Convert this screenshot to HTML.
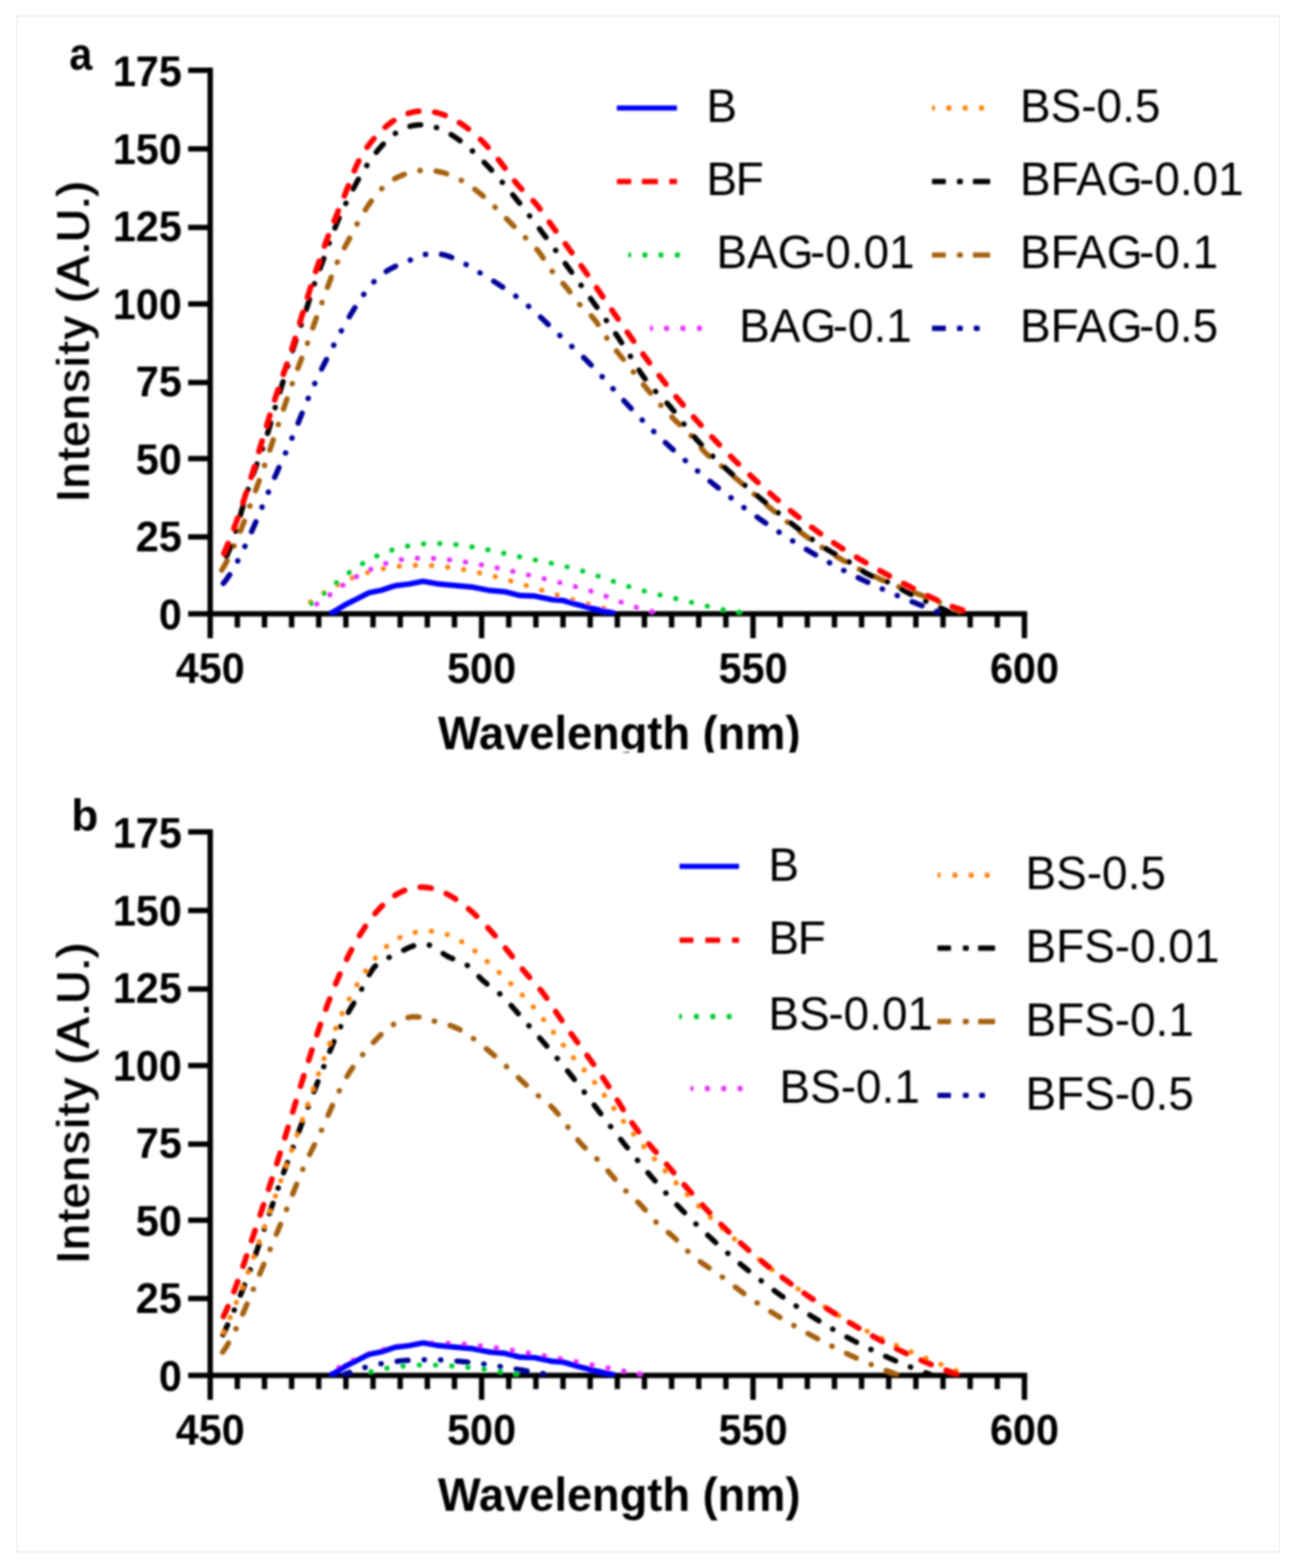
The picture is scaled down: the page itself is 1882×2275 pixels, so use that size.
<!DOCTYPE html>
<html lang="en">
<head>
<meta charset="utf-8">
<title>Fluorescence emission spectra</title>
<style>
html,body{margin:0;padding:0;background:#fff;}
body{width:1882px;height:2275px;overflow:hidden;position:relative;}
svg{display:block;position:absolute;left:0;top:0;}
text{font-family:"Liberation Sans",sans-serif;fill:#000;}
.tk{font-size:62.5px;font-weight:700;}
.ax{font-size:68px;font-weight:700;}
.yt{font-size:66px !important;font-weight:400 !important;}
.pb{font-size:64px !important;}
.pl{font-size:66px;font-weight:700;}
.lg{font-size:68px;font-weight:400;}
</style>
</head>
<body>
<svg width="1882" height="2275" viewBox="0 0 1882 2275">
<defs>
<filter id="soft" x="-2%" y="-2%" width="104%" height="104%"><feGaussianBlur stdDeviation="1.5"/></filter>
<filter id="fb" x="-5%" y="-2%" width="110%" height="104%"><feMorphology operator="dilate" radius="0 1"/></filter>
<clipPath id="clipA"><rect x="0" y="0" width="1882" height="1092"/></clipPath>
<clipPath id="plotA"><rect x="300" y="60" width="1300" height="831.5"/></clipPath>
<clipPath id="plotB"><rect x="300" y="1165" width="1300" height="831.5"/></clipPath>
</defs>
<rect x="0" y="0" width="1882" height="2275" fill="#ffffff"/>
<rect x="24.5" y="23.5" width="1832" height="2228" fill="none" stroke="#f5f5f5" stroke-width="3"/>
<g filter="url(#soft)">

<g id="panel-a" clip-path="url(#clipA)">
<g fill="#000"><rect x="301.10" y="98.10" width="7.8" height="827.90"/>
<rect x="273.00" y="886.70" width="1217.40" height="7.8"/>
<rect x="273" y="775.10" width="32.00" height="7.8"/>
<rect x="273" y="661.50" width="32.00" height="7.8"/>
<rect x="273" y="551.10" width="32.00" height="7.8"/>
<rect x="273" y="437.10" width="32.00" height="7.8"/>
<rect x="273" y="326.10" width="32.00" height="7.8"/>
<rect x="273" y="212.10" width="32.00" height="7.8"/>
<rect x="273" y="98.10" width="32.00" height="7.8"/>
<rect x="340.48" y="890.60" width="7.8" height="19.80"/>
<rect x="379.87" y="890.60" width="7.8" height="19.80"/>
<rect x="419.25" y="890.60" width="7.8" height="19.80"/>
<rect x="458.63" y="890.60" width="7.8" height="19.80"/>
<rect x="498.02" y="890.60" width="7.8" height="19.80"/>
<rect x="537.40" y="890.60" width="7.8" height="19.80"/>
<rect x="576.78" y="890.60" width="7.8" height="19.80"/>
<rect x="616.17" y="890.60" width="7.8" height="19.80"/>
<rect x="655.55" y="890.60" width="7.8" height="19.80"/>
<rect x="694.93" y="890.60" width="7.8" height="35.40"/>
<rect x="734.32" y="890.60" width="7.8" height="19.80"/>
<rect x="773.70" y="890.60" width="7.8" height="19.80"/>
<rect x="813.08" y="890.60" width="7.8" height="19.80"/>
<rect x="852.47" y="890.60" width="7.8" height="19.80"/>
<rect x="891.85" y="890.60" width="7.8" height="19.80"/>
<rect x="931.23" y="890.60" width="7.8" height="19.80"/>
<rect x="970.62" y="890.60" width="7.8" height="19.80"/>
<rect x="1010.00" y="890.60" width="7.8" height="19.80"/>
<rect x="1049.38" y="890.60" width="7.8" height="19.80"/>
<rect x="1088.77" y="890.60" width="7.8" height="35.40"/>
<rect x="1128.15" y="890.60" width="7.8" height="19.80"/>
<rect x="1167.53" y="890.60" width="7.8" height="19.80"/>
<rect x="1206.92" y="890.60" width="7.8" height="19.80"/>
<rect x="1246.30" y="890.60" width="7.8" height="19.80"/>
<rect x="1285.68" y="890.60" width="7.8" height="19.80"/>
<rect x="1325.07" y="890.60" width="7.8" height="19.80"/>
<rect x="1364.45" y="890.60" width="7.8" height="19.80"/>
<rect x="1403.83" y="890.60" width="7.8" height="19.80"/>
<rect x="1443.22" y="890.60" width="7.8" height="19.80"/>
<rect x="1482.60" y="890.60" width="7.8" height="35.40"/></g>
<text class="tk" transform="translate(263.8,912.9) scale(0.96,1)" text-anchor="end">0</text>
<text class="tk" transform="translate(263.8,800.3) scale(0.96,1)" text-anchor="end">25</text>
<text class="tk" transform="translate(263.8,687.8) scale(0.96,1)" text-anchor="end">50</text>
<text class="tk" transform="translate(263.8,575.2) scale(0.96,1)" text-anchor="end">75</text>
<text class="tk" transform="translate(263.8,462.6) scale(0.96,1)" text-anchor="end">100</text>
<text class="tk" transform="translate(263.8,350.0) scale(0.96,1)" text-anchor="end">125</text>
<text class="tk" transform="translate(263.8,237.5) scale(0.96,1)" text-anchor="end">150</text>
<text class="tk" transform="translate(263.8,124.9) scale(0.96,1)" text-anchor="end">175</text>
<text class="tk" transform="translate(305.0,991.3) scale(0.96,1)" text-anchor="middle">450</text>
<text class="tk" transform="translate(698.8,991.3) scale(0.96,1)" text-anchor="middle">500</text>
<text class="tk" transform="translate(1092.7,991.3) scale(0.96,1)" text-anchor="middle">550</text>
<text class="tk" transform="translate(1486.5,991.3) scale(0.96,1)" text-anchor="middle">600</text>
<text class="pl" transform="translate(100.5,100.6) scale(0.91,1)">a</text>
<text class="ax" transform="translate(898.5,1087.4) scale(0.965,1)" text-anchor="middle">Wavelength (nm)</text>
<g filter="url(#fb)"><text class="ax yt" transform="translate(129.4,495.7) rotate(-90)" text-anchor="middle" dx="0 1.8 3.6 1.8 1.8 3.6 3.6 3.6 3.6 1.8 0 1.8 1.8 0 0 0">Intensity (A.U.)</text></g>
<g clip-path="url(#plotA)">
<path d="M321.0,849.9 L325.0,845.3 L329.0,840.1 L333.0,834.3 L337.0,827.9 L341.0,821.0 L345.0,813.7 L349.0,805.9 L353.0,797.8 L357.0,789.3 L361.0,780.5 L365.0,771.6 L369.0,762.4 L373.0,753.0 L377.0,743.6 L381.0,734.0 L385.0,724.5 L389.0,715.0 L393.0,705.5 L397.0,696.2 L401.0,687.0 L405.0,677.9 L409.0,669.0 L413.0,660.1 L417.0,651.1 L421.0,641.9 L425.0,632.4 L429.0,622.7 L433.0,612.8 L437.0,602.8 L441.0,592.9 L445.0,583.2 L449.0,573.8 L453.0,564.7 L457.0,555.8 L461.0,547.3 L465.0,539.0 L469.0,530.8 L473.0,522.9 L477.0,515.0 L481.0,507.2 L485.0,499.5 L489.0,491.8 L493.0,484.2 L497.0,476.8 L501.0,469.7 L505.0,462.7 L509.0,456.0 L513.0,449.5 L517.0,443.1 L521.0,436.9 L525.0,431.0 L529.0,425.4 L533.0,420.0 L537.0,415.1 L541.0,410.5 L545.0,406.3 L549.0,402.5 L553.0,399.2 L557.0,396.1 L561.0,393.4 L565.0,391.0 L569.0,388.8 L573.0,386.7 L577.0,384.9 L581.0,383.1 L585.0,381.5 L589.0,379.9 L593.0,378.3 L597.0,376.6 L601.0,375.0 L605.0,373.3 L609.0,371.8 L613.0,370.4 L617.0,369.2 L621.0,368.4 L625.0,368.0 L629.0,367.8 L633.0,367.9 L637.0,368.4 L641.0,369.1 L645.0,370.0 L649.0,371.2 L653.0,372.5 L657.0,374.1 L661.0,375.8 L665.0,377.7 L669.0,379.7 L673.0,381.9 L677.0,384.1 L681.0,386.4 L685.0,388.8 L689.0,391.3 L693.0,393.7 L697.0,396.2 L701.0,398.6 L705.0,401.1 L709.0,403.6 L713.0,406.0 L717.0,408.5 L721.0,411.1 L725.0,413.6 L729.0,416.2 L733.0,418.9 L737.0,421.6 L741.0,424.3 L745.0,427.2 L749.0,430.1 L753.0,433.1 L757.0,436.2 L761.0,439.4 L765.0,442.7 L769.0,446.1 L773.0,449.6 L777.0,453.3 L781.0,457.0 L785.0,460.7 L789.0,464.5 L793.0,468.4 L797.0,472.2 L801.0,476.0 L805.0,479.9 L809.0,483.7 L813.0,487.4 L817.0,491.1 L821.0,494.7 L825.0,498.4 L829.0,502.0 L833.0,505.7 L837.0,509.4 L841.0,513.1 L845.0,516.9 L849.0,520.8 L853.0,524.7 L857.0,528.8 L861.0,532.9 L865.0,537.1 L869.0,541.4 L873.0,545.7 L877.0,550.1 L881.0,554.5 L885.0,558.9 L889.0,563.4 L893.0,567.8 L897.0,572.2 L901.0,576.7 L905.0,581.1 L909.0,585.4 L913.0,589.7 L917.0,594.0 L921.0,598.2 L925.0,602.4 L929.0,606.5 L933.0,610.6 L937.0,614.6 L941.0,618.6 L945.0,622.5 L949.0,626.4 L953.0,630.3 L957.0,634.1 L961.0,637.9 L965.0,641.7 L969.0,645.4 L973.0,649.1 L977.0,652.7 L981.0,656.3 L985.0,659.9 L989.0,663.5 L993.0,667.0 L997.0,670.4 L1001.0,673.9 L1005.0,677.3 L1009.0,680.7 L1013.0,684.1 L1017.0,687.4 L1021.0,690.7 L1025.0,694.0 L1029.0,697.3 L1033.0,700.5 L1037.0,703.7 L1041.0,706.9 L1045.0,710.0 L1049.0,713.2 L1053.0,716.3 L1057.0,719.4 L1061.0,722.5 L1065.0,725.5 L1069.0,728.5 L1073.0,731.5 L1077.0,734.5 L1081.0,737.5 L1085.0,740.4 L1089.0,743.3 L1093.0,746.2 L1097.0,749.1 L1101.0,751.9 L1105.0,754.7 L1109.0,757.5 L1113.0,760.3 L1117.0,763.0 L1121.0,765.7 L1125.0,768.4 L1129.0,771.1 L1133.0,773.7 L1137.0,776.4 L1141.0,779.0 L1145.0,781.5 L1149.0,784.1 L1153.0,786.6 L1157.0,789.1 L1161.0,791.6 L1165.0,794.1 L1169.0,796.5 L1173.0,798.9 L1177.0,801.3 L1181.0,803.6 L1185.0,806.0 L1189.0,808.3 L1193.0,810.5 L1197.0,812.8 L1201.0,815.0 L1205.0,817.2 L1209.0,819.4 L1213.0,821.6 L1217.0,823.7 L1221.0,825.8 L1225.0,827.9 L1229.0,830.0 L1233.0,832.0 L1237.0,834.1 L1241.0,836.1 L1245.0,838.0 L1249.0,840.0 L1253.0,841.9 L1257.0,843.8 L1261.0,845.7 L1265.0,847.6 L1269.0,849.5 L1273.0,851.3 L1277.0,853.1 L1281.0,854.9 L1285.0,856.7 L1289.0,858.5 L1293.0,860.2 L1297.0,862.0 L1301.0,863.7 L1305.0,865.4 L1309.0,867.1 L1313.0,868.7 L1317.0,870.4 L1321.0,872.0 L1325.0,873.6 L1329.0,875.2 L1333.0,876.8 L1337.0,878.4 L1341.0,880.0 L1345.0,881.6 L1349.0,883.1 L1353.0,884.6 L1357.0,886.2 L1359.8,887.2" fill="none" stroke="#000099" stroke-width="7.8" stroke-linejoin="round" stroke-linecap="round" stroke-dasharray="15.53 23.05 0.40 23.15 0.40 23.15" stroke-dashoffset="81.0"/>
<path d="M321.0,828.5 L325.0,821.8 L329.0,814.5 L333.0,806.6 L337.0,798.1 L341.0,789.2 L345.0,779.8 L349.0,770.0 L353.0,759.8 L357.0,749.4 L361.0,738.8 L365.0,728.0 L369.0,717.1 L373.0,706.0 L377.0,694.8 L381.0,683.4 L385.0,671.9 L389.0,660.3 L393.0,648.5 L397.0,636.6 L401.0,624.7 L405.0,612.7 L409.0,600.7 L413.0,588.8 L417.0,577.0 L421.0,565.4 L425.0,554.0 L429.0,542.9 L433.0,532.1 L437.0,521.7 L441.0,511.4 L445.0,501.0 L449.0,489.9 L453.0,478.4 L457.0,466.9 L461.0,455.8 L465.0,445.0 L469.0,434.2 L473.0,423.2 L477.0,412.2 L481.0,401.4 L485.0,391.0 L489.0,381.4 L493.0,372.7 L497.0,364.8 L501.0,357.2 L505.0,349.8 L509.0,342.2 L513.0,334.5 L517.0,327.0 L521.0,319.8 L525.0,312.8 L529.0,306.2 L533.0,300.0 L537.0,294.2 L541.0,288.7 L545.0,283.6 L549.0,279.0 L553.0,274.7 L557.0,270.9 L561.0,267.5 L565.0,264.4 L569.0,261.7 L573.0,259.3 L577.0,257.2 L581.0,255.3 L585.0,253.6 L589.0,252.1 L593.0,250.8 L597.0,249.7 L601.0,248.8 L605.0,248.0 L609.0,247.5 L613.0,247.2 L617.0,247.0 L621.0,247.1 L625.0,247.3 L629.0,247.7 L633.0,248.3 L637.0,249.1 L641.0,250.0 L645.0,251.1 L649.0,252.4 L653.0,253.9 L657.0,255.5 L661.0,257.4 L665.0,259.3 L669.0,261.5 L673.0,263.8 L677.0,266.3 L681.0,268.9 L685.0,271.7 L689.0,274.7 L693.0,277.8 L697.0,281.0 L701.0,284.5 L705.0,288.0 L709.0,291.7 L713.0,295.4 L717.0,299.3 L721.0,303.2 L725.0,307.2 L729.0,311.2 L733.0,315.3 L737.0,319.4 L741.0,323.4 L745.0,327.5 L749.0,331.6 L753.0,335.6 L757.0,339.5 L761.0,343.4 L765.0,347.3 L769.0,351.1 L773.0,355.1 L777.0,359.5 L781.0,364.2 L785.0,369.6 L789.0,375.6 L793.0,381.7 L797.0,387.8 L801.0,393.4 L805.0,398.3 L809.0,402.8 L813.0,407.1 L817.0,411.4 L821.0,415.9 L825.0,421.0 L829.0,426.3 L833.0,431.7 L837.0,436.9 L841.0,441.7 L845.0,445.9 L849.0,449.7 L853.0,453.4 L857.0,457.3 L861.0,461.6 L865.0,466.7 L869.0,472.5 L873.0,478.8 L877.0,485.1 L881.0,491.2 L885.0,496.9 L889.0,502.2 L893.0,507.2 L897.0,512.1 L901.0,517.1 L905.0,522.0 L909.0,527.0 L913.0,532.1 L917.0,537.1 L921.0,542.1 L925.0,547.1 L929.0,552.1 L933.0,557.1 L937.0,562.0 L941.0,566.9 L945.0,571.7 L949.0,576.5 L953.0,581.2 L957.0,585.8 L961.0,590.3 L965.0,594.7 L969.0,599.0 L973.0,603.1 L977.0,607.2 L981.0,611.1 L985.0,614.8 L989.0,618.5 L993.0,622.2 L997.0,626.0 L1001.0,630.0 L1005.0,634.5 L1009.0,639.3 L1013.0,644.4 L1017.0,649.5 L1021.0,654.3 L1025.0,658.4 L1029.0,662.0 L1033.0,665.2 L1037.0,668.4 L1041.0,671.6 L1045.0,674.8 L1049.0,678.1 L1053.0,681.4 L1057.0,684.8 L1061.0,688.2 L1065.0,691.6 L1069.0,695.0 L1073.0,698.4 L1077.0,701.9 L1081.0,705.4 L1085.0,708.9 L1089.0,712.3 L1093.0,715.8 L1097.0,719.3 L1101.0,722.8 L1105.0,726.2 L1109.0,729.7 L1113.0,733.1 L1117.0,736.5 L1121.0,739.9 L1125.0,743.3 L1129.0,746.6 L1133.0,749.9 L1137.0,753.1 L1141.0,756.3 L1145.0,759.5 L1149.0,762.6 L1153.0,765.7 L1157.0,768.7 L1161.0,771.7 L1165.0,774.7 L1169.0,777.6 L1173.0,780.5 L1177.0,783.3 L1181.0,786.1 L1185.0,788.8 L1189.0,791.6 L1193.0,794.2 L1197.0,796.8 L1201.0,799.4 L1205.0,801.9 L1209.0,804.4 L1213.0,806.8 L1217.0,809.2 L1221.0,811.6 L1225.0,813.9 L1229.0,816.1 L1233.0,818.4 L1237.0,820.5 L1241.0,822.7 L1245.0,824.8 L1249.0,826.8 L1253.0,828.8 L1257.0,830.8 L1261.0,832.7 L1265.0,834.6 L1269.0,836.5 L1273.0,838.3 L1277.0,840.1 L1281.0,841.9 L1285.0,843.6 L1289.0,845.3 L1293.0,846.9 L1297.0,848.5 L1301.0,850.1 L1305.0,851.6 L1309.0,853.2 L1313.0,854.7 L1317.0,856.2 L1321.0,857.7 L1325.0,859.2 L1329.0,860.7 L1333.0,862.1 L1337.0,863.6 L1341.0,865.1 L1345.0,866.6 L1349.0,868.1 L1353.0,869.7 L1357.0,871.2 L1361.0,872.8 L1365.0,874.4 L1369.0,876.0 L1373.0,877.7 L1377.0,879.4 L1381.0,881.1 L1385.0,882.9 L1389.0,884.8 L1392.0,886.2" fill="none" stroke="#a5610f" stroke-width="7.8" stroke-linejoin="round" stroke-linecap="round" stroke-dasharray="15.66 23.23 0.40 23.33" stroke-dashoffset="61.0"/>
<path d="M321.0,818.0 L325.0,813.5 L329.0,806.4 L333.0,797.1 L337.0,786.1 L341.0,773.7 L345.0,760.4 L349.0,746.7 L353.0,732.8 L357.0,719.4 L361.0,706.7 L365.0,694.8 L369.0,683.6 L373.0,672.6 L377.0,661.7 L381.0,650.6 L385.0,638.9 L389.0,626.4 L393.0,613.0 L397.0,599.2 L401.0,585.6 L405.0,572.4 L409.0,559.4 L413.0,546.2 L417.0,533.0 L421.0,519.9 L425.0,507.3 L429.0,495.1 L433.0,483.2 L437.0,471.4 L441.0,459.5 L445.0,447.3 L449.0,434.5 L453.0,421.5 L457.0,409.4 L461.0,398.4 L465.0,387.9 L469.0,377.2 L473.0,365.9 L477.0,354.5 L481.0,343.6 L485.0,333.3 L489.0,323.4 L493.0,314.1 L497.0,305.3 L501.0,296.8 L505.0,288.6 L509.0,280.7 L513.0,273.0 L517.0,265.7 L521.0,258.6 L525.0,251.8 L529.0,245.3 L533.0,239.1 L537.0,233.1 L541.0,227.5 L545.0,222.2 L549.0,217.2 L553.0,212.6 L557.0,208.2 L561.0,204.2 L565.0,200.5 L569.0,197.1 L573.0,194.0 L577.0,191.3 L581.0,189.0 L585.0,186.9 L589.0,185.2 L593.0,183.8 L597.0,182.7 L601.0,181.9 L605.0,181.3 L609.0,181.1 L613.0,181.1 L617.0,181.4 L621.0,181.9 L625.0,182.7 L629.0,183.7 L633.0,184.9 L637.0,186.4 L641.0,188.1 L645.0,190.0 L649.0,192.1 L653.0,194.3 L657.0,196.8 L661.0,199.4 L665.0,202.2 L669.0,205.2 L673.0,208.3 L677.0,211.6 L681.0,215.0 L685.0,218.6 L689.0,222.2 L693.0,226.0 L697.0,229.9 L701.0,234.0 L705.0,238.1 L709.0,242.3 L713.0,246.6 L717.0,251.1 L721.0,255.5 L725.0,260.1 L729.0,264.7 L733.0,269.4 L737.0,274.1 L741.0,278.9 L745.0,283.8 L749.0,288.7 L753.0,293.6 L757.0,298.6 L761.0,303.7 L765.0,308.7 L769.0,313.9 L773.0,319.0 L777.0,324.2 L781.0,329.5 L785.0,334.8 L789.0,340.1 L793.0,345.4 L797.0,350.8 L801.0,356.1 L805.0,361.5 L809.0,367.0 L813.0,372.4 L817.0,377.9 L821.0,383.4 L825.0,388.9 L829.0,394.4 L833.0,399.9 L837.0,405.4 L841.0,411.0 L845.0,416.5 L849.0,422.1 L853.0,427.6 L857.0,433.2 L861.0,438.7 L865.0,444.2 L869.0,449.8 L873.0,455.4 L877.0,460.9 L881.0,466.6 L885.0,472.2 L889.0,478.0 L893.0,483.7 L897.0,489.6 L901.0,495.6 L905.0,501.7 L909.0,507.8 L913.0,514.1 L917.0,520.6 L921.0,527.1 L925.0,533.5 L929.0,539.7 L933.0,545.6 L937.0,551.1 L941.0,556.2 L945.0,561.0 L949.0,565.5 L953.0,569.8 L957.0,573.9 L961.0,577.9 L965.0,581.9 L969.0,586.1 L973.0,590.6 L977.0,595.4 L981.0,600.5 L985.0,605.7 L989.0,611.0 L993.0,616.2 L997.0,621.3 L1001.0,626.2 L1005.0,631.0 L1009.0,635.6 L1013.0,640.1 L1017.0,644.5 L1021.0,648.8 L1025.0,652.9 L1029.0,657.0 L1033.0,660.9 L1037.0,664.8 L1041.0,668.6 L1045.0,672.3 L1049.0,676.0 L1053.0,679.6 L1057.0,683.2 L1061.0,686.7 L1065.0,690.3 L1069.0,693.8 L1073.0,697.3 L1077.0,700.7 L1081.0,704.2 L1085.0,707.6 L1089.0,711.0 L1093.0,714.4 L1097.0,717.7 L1101.0,721.1 L1105.0,724.4 L1109.0,727.7 L1113.0,731.0 L1117.0,734.3 L1121.0,737.6 L1125.0,740.8 L1129.0,744.0 L1133.0,747.2 L1137.0,750.4 L1141.0,753.6 L1145.0,756.8 L1149.0,760.0 L1153.0,763.1 L1157.0,766.3 L1161.0,769.4 L1165.0,772.5 L1169.0,775.6 L1173.0,778.6 L1177.0,781.5 L1181.0,784.4 L1185.0,787.3 L1189.0,790.0 L1193.0,792.7 L1197.0,795.3 L1201.0,797.7 L1205.0,800.1 L1209.0,802.3 L1213.0,804.5 L1217.0,806.6 L1221.0,808.8 L1225.0,811.0 L1229.0,813.4 L1233.0,815.8 L1237.0,818.4 L1241.0,821.2 L1245.0,823.9 L1249.0,826.7 L1253.0,829.3 L1257.0,831.7 L1261.0,833.8 L1265.0,835.7 L1269.0,837.3 L1273.0,838.8 L1277.0,840.2 L1281.0,841.6 L1285.0,843.1 L1289.0,844.7 L1293.0,846.6 L1297.0,848.7 L1301.0,850.8 L1305.0,853.1 L1309.0,855.3 L1313.0,857.6 L1317.0,859.7 L1321.0,861.8 L1325.0,863.8 L1329.0,865.7 L1333.0,867.6 L1337.0,869.4 L1341.0,871.2 L1345.0,873.0 L1349.0,874.7 L1353.0,876.5 L1357.0,878.3 L1361.0,880.1 L1365.0,882.0 L1369.0,883.9 L1373.0,885.8 L1377.0,887.8 L1378.0,888.4" fill="none" stroke="#000000" stroke-width="7.8" stroke-linejoin="round" stroke-linecap="round" stroke-dasharray="15.69 23.28 0.40 23.38" stroke-dashoffset="49.5"/>
<path d="M433.3,887.3 L437.3,883.9 L441.3,880.6 L445.3,877.4 L449.3,874.3 L453.3,871.3 L457.3,868.4 L461.3,865.7 L465.3,863.0 L469.3,860.4 L473.3,857.8 L477.3,855.4 L481.3,853.1 L485.3,850.9 L489.3,848.7 L493.3,846.7 L497.3,844.7 L501.3,842.8 L505.3,841.0 L509.3,839.3 L513.3,837.6 L517.3,836.1 L521.3,834.6 L525.3,833.2 L529.3,831.9 L533.3,830.7 L537.3,829.5 L541.3,828.4 L545.3,827.4 L549.3,826.4 L553.3,825.6 L557.3,824.8 L561.3,824.0 L565.3,823.4 L569.3,822.8 L573.3,822.2 L577.3,821.7 L581.3,821.3 L585.3,821.0 L589.3,820.7 L593.3,820.5 L597.3,820.3 L601.3,820.2 L605.3,820.1 L609.3,820.1 L613.3,820.2 L617.3,820.3 L621.3,820.4 L625.3,820.6 L629.3,820.9 L633.3,821.2 L637.3,821.5 L641.3,821.9 L645.3,822.3 L649.3,822.8 L653.3,823.3 L657.3,823.9 L661.3,824.5 L665.3,825.1 L669.3,825.8 L673.3,826.5 L677.3,827.3 L681.3,828.0 L685.3,828.8 L689.3,829.7 L693.3,830.6 L697.3,831.5 L701.3,832.4 L705.3,833.3 L709.3,834.3 L713.3,835.3 L717.3,836.3 L721.3,837.4 L725.3,838.5 L729.3,839.5 L733.3,840.6 L737.3,841.8 L741.3,842.9 L745.3,844.1 L749.3,845.2 L753.3,846.4 L757.3,847.6 L761.3,848.8 L765.3,850.0 L769.3,851.2 L773.3,852.4 L777.3,853.7 L781.3,854.9 L785.3,856.1 L789.3,857.4 L793.3,858.6 L797.3,859.8 L801.3,861.1 L805.3,862.3 L809.3,863.5 L813.3,864.7 L817.3,865.9 L821.3,867.2 L825.3,868.3 L829.3,869.5 L833.3,870.7 L837.3,871.9 L841.3,873.0 L845.3,874.2 L849.3,875.3 L853.3,876.4 L857.3,877.5 L861.3,878.5 L865.3,879.6 L869.3,880.6 L873.3,881.6 L877.3,882.6 L881.3,883.5 L885.3,884.5 L889.3,885.4 L893.3,886.2 L897.0,887.0" fill="none" stroke="#ff8408" stroke-width="7.3" stroke-linejoin="round" stroke-linecap="round" stroke-dasharray="0.40 23.05" stroke-dashoffset="1.5"/>
<path d="M441.0,887.3 L445.0,885.3 L449.0,883.0 L453.0,880.7 L457.0,878.1 L461.0,875.5 L465.0,872.7 L469.0,869.9 L473.0,867.0 L477.0,864.0 L481.0,861.1 L485.0,858.1 L489.0,855.2 L493.0,852.3 L497.0,849.5 L501.0,846.8 L505.0,844.2 L509.0,841.6 L513.0,839.2 L517.0,836.8 L521.0,834.6 L525.0,832.4 L529.0,830.4 L533.0,828.4 L537.0,826.5 L541.0,824.7 L545.0,823.0 L549.0,821.4 L553.0,819.9 L557.0,818.5 L561.0,817.2 L565.0,815.9 L569.0,814.8 L573.0,813.8 L577.0,812.9 L581.0,812.1 L585.0,811.5 L589.0,810.9 L593.0,810.5 L597.0,810.2 L601.0,810.0 L605.0,809.9 L609.0,809.8 L613.0,809.8 L617.0,809.8 L621.0,809.9 L625.0,810.0 L629.0,810.2 L633.0,810.5 L637.0,810.8 L641.0,811.1 L645.0,811.5 L649.0,811.9 L653.0,812.4 L657.0,812.9 L661.0,813.4 L665.0,814.0 L669.0,814.5 L673.0,815.1 L677.0,815.8 L681.0,816.4 L685.0,817.0 L689.0,817.7 L693.0,818.4 L697.0,819.1 L701.0,819.9 L705.0,820.6 L709.0,821.4 L713.0,822.2 L717.0,823.0 L721.0,823.9 L725.0,824.7 L729.0,825.6 L733.0,826.5 L737.0,827.4 L741.0,828.3 L745.0,829.2 L749.0,830.1 L753.0,831.0 L757.0,832.0 L761.0,832.9 L765.0,833.8 L769.0,834.8 L773.0,835.7 L777.0,836.7 L781.0,837.6 L785.0,838.5 L789.0,839.5 L793.0,840.5 L797.0,841.4 L801.0,842.4 L805.0,843.4 L809.0,844.4 L813.0,845.4 L817.0,846.4 L821.0,847.4 L825.0,848.5 L829.0,849.5 L833.0,850.6 L837.0,851.7 L841.0,852.8 L845.0,853.9 L849.0,855.1 L853.0,856.3 L857.0,857.5 L861.0,858.8 L865.0,860.1 L869.0,861.4 L873.0,862.8 L877.0,864.2 L881.0,865.7 L885.0,867.2 L889.0,868.8 L893.0,870.4 L897.0,871.9 L901.0,873.5 L905.0,875.0 L909.0,876.4 L913.0,877.8 L917.0,879.1 L921.0,880.4 L925.0,881.6 L929.0,882.8 L933.0,883.9 L937.0,884.9 L941.0,885.9 L945.0,886.8 L946.2,887.1" fill="none" stroke="#e633ff" stroke-width="7.3" stroke-linejoin="round" stroke-linecap="round" stroke-dasharray="0.40 22.96" stroke-dashoffset="2.0"/>
<path d="M433.9,887.3 L437.9,885.0 L441.9,882.6 L445.9,879.9 L449.9,877.1 L453.9,874.1 L457.9,871.0 L461.9,867.8 L465.9,864.6 L469.9,861.3 L473.9,857.9 L477.9,854.5 L481.9,851.1 L485.9,847.6 L489.9,844.3 L493.9,840.9 L497.9,837.7 L501.9,834.5 L505.9,831.4 L509.9,828.4 L513.9,825.6 L517.9,822.9 L521.9,820.3 L525.9,817.8 L529.9,815.4 L533.9,813.2 L537.9,811.0 L541.9,809.0 L545.9,807.1 L549.9,805.2 L553.9,803.5 L557.9,801.9 L561.9,800.4 L565.9,799.0 L569.9,797.7 L573.9,796.5 L577.9,795.3 L581.9,794.3 L585.9,793.4 L589.9,792.5 L593.9,791.8 L597.9,791.1 L601.9,790.5 L605.9,790.0 L609.9,789.6 L613.9,789.2 L617.9,788.9 L621.9,788.7 L625.9,788.6 L629.9,788.5 L633.9,788.5 L637.9,788.6 L641.9,788.7 L645.9,788.9 L649.9,789.1 L653.9,789.4 L657.9,789.8 L661.9,790.2 L665.9,790.6 L669.9,791.1 L673.9,791.7 L677.9,792.3 L681.9,792.9 L685.9,793.5 L689.9,794.2 L693.9,795.0 L697.9,795.7 L701.9,796.5 L705.9,797.3 L709.9,798.2 L713.9,799.0 L717.9,799.9 L721.9,800.7 L725.9,801.6 L729.9,802.5 L733.9,803.4 L737.9,804.3 L741.9,805.2 L745.9,806.0 L749.9,806.9 L753.9,807.8 L757.9,808.6 L761.9,809.4 L765.9,810.3 L769.9,811.1 L773.9,811.9 L777.9,812.7 L781.9,813.5 L785.9,814.3 L789.9,815.1 L793.9,815.9 L797.9,816.8 L801.9,817.6 L805.9,818.5 L809.9,819.4 L813.9,820.3 L817.9,821.2 L821.9,822.2 L825.9,823.2 L829.9,824.2 L833.9,825.2 L837.9,826.3 L841.9,827.5 L845.9,828.6 L849.9,829.9 L853.9,831.1 L857.9,832.4 L861.9,833.8 L865.9,835.1 L869.9,836.5 L873.9,837.9 L877.9,839.3 L881.9,840.7 L885.9,842.1 L889.9,843.5 L893.9,844.9 L897.9,846.3 L901.9,847.6 L905.9,849.0 L909.9,850.2 L913.9,851.5 L917.9,852.7 L921.9,853.9 L925.9,855.1 L929.9,856.2 L933.9,857.3 L937.9,858.4 L941.9,859.4 L945.9,860.4 L949.9,861.4 L953.9,862.4 L957.9,863.3 L961.9,864.3 L965.9,865.2 L969.9,866.2 L973.9,867.1 L977.9,868.0 L981.9,868.9 L985.9,869.8 L989.9,870.7 L993.9,871.7 L997.9,872.6 L1001.9,873.5 L1005.9,874.5 L1009.9,875.4 L1013.9,876.4 L1017.9,877.4 L1021.9,878.4 L1025.9,879.3 L1029.9,880.3 L1033.9,881.2 L1037.9,882.1 L1041.9,882.9 L1045.9,883.8 L1049.9,884.6 L1053.9,885.3 L1057.9,886.1 L1061.9,886.7 L1065.9,887.3 L1069.9,887.8 L1072.9,888.2" fill="none" stroke="#00cc33" stroke-width="7.3" stroke-linejoin="round" stroke-linecap="round" stroke-dasharray="0.40 23.10" stroke-dashoffset="2.0"/>
<path d="M321.0,811.7 L325.0,802.7 L329.0,793.3 L333.0,783.4 L337.0,773.2 L341.0,762.5 L345.0,751.4 L349.0,739.9 L353.0,728.1 L357.0,715.9 L361.0,703.4 L365.0,690.7 L369.0,677.6 L373.0,664.3 L377.0,650.9 L381.0,637.5 L385.0,624.1 L389.0,610.8 L393.0,597.8 L397.0,585.1 L401.0,572.8 L405.0,560.9 L409.0,549.3 L413.0,537.7 L417.0,526.1 L421.0,514.2 L425.0,501.7 L429.0,488.7 L433.0,475.2 L437.0,461.8 L441.0,448.4 L445.0,435.3 L449.0,422.4 L453.0,409.7 L457.0,397.3 L461.0,385.2 L465.0,373.5 L469.0,362.1 L473.0,351.2 L477.0,340.6 L481.0,330.4 L485.0,320.4 L489.0,310.6 L493.0,300.8 L497.0,290.9 L501.0,280.9 L505.0,270.7 L509.0,260.3 L513.0,250.3 L517.0,241.0 L521.0,232.7 L525.0,225.5 L529.0,219.0 L533.0,213.2 L537.0,207.9 L541.0,203.0 L545.0,198.4 L549.0,194.1 L553.0,190.0 L557.0,186.3 L561.0,182.8 L565.0,179.5 L569.0,176.6 L573.0,173.9 L577.0,171.5 L581.0,169.3 L585.0,167.4 L589.0,165.7 L593.0,164.3 L597.0,163.2 L601.0,162.3 L605.0,161.6 L609.0,161.2 L613.0,161.0 L617.0,161.0 L621.0,161.3 L625.0,161.8 L629.0,162.4 L633.0,163.3 L637.0,164.4 L641.0,165.6 L645.0,167.0 L649.0,168.6 L653.0,170.4 L657.0,172.4 L661.0,174.5 L665.0,176.9 L669.0,179.4 L673.0,182.1 L677.0,185.0 L681.0,188.0 L685.0,191.3 L689.0,194.7 L693.0,198.3 L697.0,202.1 L701.0,206.1 L705.0,210.2 L709.0,214.6 L713.0,219.1 L717.0,223.8 L721.0,228.7 L725.0,233.8 L729.0,239.0 L733.0,244.4 L737.0,249.9 L741.0,255.3 L745.0,260.5 L749.0,265.5 L753.0,270.2 L757.0,274.5 L761.0,278.5 L765.0,282.5 L769.0,286.4 L773.0,290.6 L777.0,295.1 L781.0,299.9 L785.0,305.2 L789.0,310.7 L793.0,316.4 L797.0,322.1 L801.0,327.7 L805.0,333.2 L809.0,338.7 L813.0,344.0 L817.0,349.4 L821.0,354.7 L825.0,360.1 L829.0,365.6 L833.0,371.1 L837.0,376.6 L841.0,382.3 L845.0,387.9 L849.0,393.6 L853.0,399.3 L857.0,405.1 L861.0,410.8 L865.0,416.6 L869.0,422.4 L873.0,428.2 L877.0,434.0 L881.0,439.9 L885.0,445.7 L889.0,451.5 L893.0,457.3 L897.0,463.0 L901.0,468.8 L905.0,474.5 L909.0,480.2 L913.0,485.9 L917.0,491.5 L921.0,497.1 L925.0,502.7 L929.0,508.2 L933.0,513.7 L937.0,519.1 L941.0,524.5 L945.0,529.9 L949.0,535.2 L953.0,540.4 L957.0,545.6 L961.0,550.7 L965.0,555.8 L969.0,560.8 L973.0,565.8 L977.0,570.6 L981.0,575.5 L985.0,580.3 L989.0,585.0 L993.0,589.7 L997.0,594.3 L1001.0,598.9 L1005.0,603.4 L1009.0,607.9 L1013.0,612.4 L1017.0,616.8 L1021.0,621.1 L1025.0,625.5 L1029.0,629.8 L1033.0,634.0 L1037.0,638.2 L1041.0,642.4 L1045.0,646.6 L1049.0,650.7 L1053.0,654.8 L1057.0,658.8 L1061.0,662.8 L1065.0,666.8 L1069.0,670.8 L1073.0,674.7 L1077.0,678.6 L1081.0,682.4 L1085.0,686.2 L1089.0,690.0 L1093.0,693.8 L1097.0,697.5 L1101.0,701.2 L1105.0,704.8 L1109.0,708.4 L1113.0,712.0 L1117.0,715.5 L1121.0,719.0 L1125.0,722.5 L1129.0,725.9 L1133.0,729.3 L1137.0,732.7 L1141.0,736.0 L1145.0,739.3 L1149.0,742.6 L1153.0,745.8 L1157.0,749.0 L1161.0,752.1 L1165.0,755.2 L1169.0,758.3 L1173.0,761.4 L1177.0,764.4 L1181.0,767.3 L1185.0,770.3 L1189.0,773.2 L1193.0,776.0 L1197.0,778.8 L1201.0,781.6 L1205.0,784.4 L1209.0,787.1 L1213.0,789.8 L1217.0,792.4 L1221.0,795.0 L1225.0,797.5 L1229.0,800.1 L1233.0,802.6 L1237.0,805.0 L1241.0,807.5 L1245.0,809.9 L1249.0,812.2 L1253.0,814.6 L1257.0,816.9 L1261.0,819.2 L1265.0,821.5 L1269.0,823.7 L1273.0,826.0 L1277.0,828.2 L1281.0,830.4 L1285.0,832.6 L1289.0,834.7 L1293.0,836.9 L1297.0,839.0 L1301.0,841.2 L1305.0,843.3 L1309.0,845.4 L1313.0,847.5 L1317.0,849.6 L1321.0,851.7 L1325.0,853.8 L1329.0,855.8 L1333.0,857.9 L1337.0,859.9 L1341.0,861.9 L1345.0,863.9 L1349.0,865.8 L1353.0,867.8 L1357.0,869.6 L1361.0,871.5 L1365.0,873.2 L1369.0,875.0 L1373.0,876.6 L1377.0,878.2 L1381.0,879.8 L1385.0,881.3 L1389.0,882.7 L1393.0,884.0 L1397.0,885.3 L1401.0,886.4 L1405.0,887.5" fill="none" stroke="#ff0000" stroke-width="8.2" stroke-linejoin="round" stroke-linecap="round" stroke-dasharray="15.75 23.37" stroke-dashoffset="29.5"/>
<path d="M479.0,890.0 L483.0,888.3 L501.5,877.1 L518.8,868.5 L536.0,859.8 L553.3,856.4 L573.5,849.7 L593.6,847.4 L613.8,843.4 L633.9,846.9 L662.7,849.7 L685.7,851.8 L708.8,856.4 L731.8,858.4 L754.8,864.1 L775.0,864.7 L800.0,869.9 L817.3,871.3 L837.4,877.1 L857.6,882.3 L886.4,888.6 L892.0,890.0" fill="none" stroke="#0000ff" stroke-width="8.0" stroke-linejoin="round"/>
</g>
<g id="legend-a">
<rect x="895.0" y="152.9" width="87.3" height="7.6" rx="1.0" fill="#0000ff"/>
<rect x="895.2" y="259.6" width="20.7" height="7.6" rx="1.0" fill="#ff0000"/><rect x="931.4" y="259.6" width="23.3" height="7.6" rx="1.0" fill="#ff0000"/><rect x="971.2" y="259.6" width="11.2" height="7.6" rx="1.0" fill="#ff0000"/>
<rect x="911.4" y="366.2" width="4.4" height="7.6" rx="2.0" fill="#00cc33"/><rect x="932.2" y="366.2" width="7.2" height="7.6" rx="2.0" fill="#00cc33"/><rect x="955.5" y="366.2" width="7.2" height="7.6" rx="2.0" fill="#00cc33"/><rect x="979.3" y="366.2" width="7.2" height="7.6" rx="2.0" fill="#00cc33"/>
<rect x="943.1" y="472.6" width="4.4" height="7.6" rx="2.0" fill="#e633ff"/><rect x="963.6" y="472.6" width="7.2" height="7.6" rx="2.0" fill="#e633ff"/><rect x="987.4" y="472.6" width="7.2" height="7.6" rx="2.0" fill="#e633ff"/><rect x="1011.3" y="472.6" width="7.2" height="7.6" rx="2.0" fill="#e633ff"/>
<rect x="1352.3" y="152.9" width="4.4" height="7.6" rx="2.0" fill="#ff8408"/><rect x="1373.4" y="152.9" width="7.2" height="7.6" rx="2.0" fill="#ff8408"/><rect x="1397.0" y="152.9" width="7.2" height="7.6" rx="2.0" fill="#ff8408"/><rect x="1420.6" y="152.9" width="7.2" height="7.6" rx="2.0" fill="#ff8408"/>
<rect x="1352.4" y="259.6" width="20.1" height="7.6" rx="1.0" fill="#000000"/><rect x="1388.6" y="259.6" width="8.5" height="7.6" rx="2.0" fill="#000000"/><rect x="1411.8" y="259.6" width="24.9" height="7.6" rx="1.0" fill="#000000"/>
<rect x="1352.4" y="366.2" width="20.1" height="7.6" rx="1.0" fill="#a5610f"/><rect x="1388.6" y="366.2" width="8.5" height="7.6" rx="2.0" fill="#a5610f"/><rect x="1411.8" y="366.2" width="24.9" height="7.6" rx="1.0" fill="#a5610f"/>
<rect x="1352.4" y="472.6" width="20.1" height="7.6" rx="1.0" fill="#000099"/><rect x="1388.6" y="472.6" width="8.5" height="7.6" rx="2.0" fill="#000099"/><rect x="1413.0" y="472.6" width="8.5" height="7.6" rx="2.0" fill="#000099"/>
<text class="lg" transform="translate(1025.0,177.2) scale(0.98,1)">B</text>
<text class="lg" transform="translate(1025.0,283.4) scale(0.98,1)" dx="0 -2">BF</text>
<text class="lg" transform="translate(1039.5,389.3) scale(0.98,1)" dx="0 0 0 -5.1">BAG-0.01</text>
<text class="lg" transform="translate(1072.5,495.6) scale(0.98,1)" dx="0 0 0 -5.1">BAG-0.1</text>
<text class="lg" transform="translate(1480.0,177.2) scale(0.98,1)">BS-0.5</text>
<text class="lg" transform="translate(1480.0,283.4) scale(0.98,1)" dx="0 0 0 0 -5.1">BFAG-0.01</text>
<text class="lg" transform="translate(1480.0,389.3) scale(0.98,1)" dx="0 0 0 0 -5.1">BFAG-0.1</text>
<text class="lg" transform="translate(1480.0,495.6) scale(0.98,1)" dx="0 0 0 0 -5.1">BFAG-0.5</text>
</g>
</g>
<g id="panel-b">
<g fill="#000"><rect x="301.10" y="1203.10" width="7.8" height="827.90"/>
<rect x="273.00" y="1991.70" width="1217.40" height="7.8"/>
<rect x="273" y="1880.10" width="32.00" height="7.8"/>
<rect x="273" y="1766.50" width="32.00" height="7.8"/>
<rect x="273" y="1656.10" width="32.00" height="7.8"/>
<rect x="273" y="1542.10" width="32.00" height="7.8"/>
<rect x="273" y="1431.10" width="32.00" height="7.8"/>
<rect x="273" y="1317.10" width="32.00" height="7.8"/>
<rect x="273" y="1203.10" width="32.00" height="7.8"/>
<rect x="340.48" y="1995.60" width="7.8" height="19.80"/>
<rect x="379.87" y="1995.60" width="7.8" height="19.80"/>
<rect x="419.25" y="1995.60" width="7.8" height="19.80"/>
<rect x="458.63" y="1995.60" width="7.8" height="19.80"/>
<rect x="498.02" y="1995.60" width="7.8" height="19.80"/>
<rect x="537.40" y="1995.60" width="7.8" height="19.80"/>
<rect x="576.78" y="1995.60" width="7.8" height="19.80"/>
<rect x="616.17" y="1995.60" width="7.8" height="19.80"/>
<rect x="655.55" y="1995.60" width="7.8" height="19.80"/>
<rect x="694.93" y="1995.60" width="7.8" height="35.40"/>
<rect x="734.32" y="1995.60" width="7.8" height="19.80"/>
<rect x="773.70" y="1995.60" width="7.8" height="19.80"/>
<rect x="813.08" y="1995.60" width="7.8" height="19.80"/>
<rect x="852.47" y="1995.60" width="7.8" height="19.80"/>
<rect x="891.85" y="1995.60" width="7.8" height="19.80"/>
<rect x="931.23" y="1995.60" width="7.8" height="19.80"/>
<rect x="970.62" y="1995.60" width="7.8" height="19.80"/>
<rect x="1010.00" y="1995.60" width="7.8" height="19.80"/>
<rect x="1049.38" y="1995.60" width="7.8" height="19.80"/>
<rect x="1088.77" y="1995.60" width="7.8" height="35.40"/>
<rect x="1128.15" y="1995.60" width="7.8" height="19.80"/>
<rect x="1167.53" y="1995.60" width="7.8" height="19.80"/>
<rect x="1206.92" y="1995.60" width="7.8" height="19.80"/>
<rect x="1246.30" y="1995.60" width="7.8" height="19.80"/>
<rect x="1285.68" y="1995.60" width="7.8" height="19.80"/>
<rect x="1325.07" y="1995.60" width="7.8" height="19.80"/>
<rect x="1364.45" y="1995.60" width="7.8" height="19.80"/>
<rect x="1403.83" y="1995.60" width="7.8" height="19.80"/>
<rect x="1443.22" y="1995.60" width="7.8" height="19.80"/>
<rect x="1482.60" y="1995.60" width="7.8" height="35.40"/></g>
<text class="tk" transform="translate(263.8,2017.9) scale(0.96,1)" text-anchor="end">0</text>
<text class="tk" transform="translate(263.8,1905.3) scale(0.96,1)" text-anchor="end">25</text>
<text class="tk" transform="translate(263.8,1792.8) scale(0.96,1)" text-anchor="end">50</text>
<text class="tk" transform="translate(263.8,1680.2) scale(0.96,1)" text-anchor="end">75</text>
<text class="tk" transform="translate(263.8,1567.6) scale(0.96,1)" text-anchor="end">100</text>
<text class="tk" transform="translate(263.8,1455.0) scale(0.96,1)" text-anchor="end">125</text>
<text class="tk" transform="translate(263.8,1342.5) scale(0.96,1)" text-anchor="end">150</text>
<text class="tk" transform="translate(263.8,1229.9) scale(0.96,1)" text-anchor="end">175</text>
<text class="tk" transform="translate(305.0,2096.3) scale(0.96,1)" text-anchor="middle">450</text>
<text class="tk" transform="translate(698.8,2096.3) scale(0.96,1)" text-anchor="middle">500</text>
<text class="tk" transform="translate(1092.7,2096.3) scale(0.96,1)" text-anchor="middle">550</text>
<text class="tk" transform="translate(1486.5,2096.3) scale(0.96,1)" text-anchor="middle">600</text>
<text class="pl pb" transform="translate(103.6,1204.8)">b</text>
<text class="ax" transform="translate(898.5,2192.4) scale(0.965,1)" text-anchor="middle">Wavelength (nm)</text>
<g filter="url(#fb)"><text class="ax yt" transform="translate(129.4,1600.7) rotate(-90)" text-anchor="middle" dx="0 1.8 3.6 1.8 1.8 3.6 3.6 3.6 3.6 1.8 0 1.8 1.8 0 0 0">Intensity (A.U.)</text></g>
<g clip-path="url(#plotB)">
<path d="M500.0,1993.9 L504.0,1992.4 L508.0,1990.9 L512.0,1989.5 L516.0,1988.1 L520.0,1986.9 L524.0,1985.6 L528.0,1984.5 L532.0,1983.4 L536.0,1982.4 L540.0,1981.4 L544.0,1980.5 L548.0,1979.6 L552.0,1978.8 L556.0,1978.1 L560.0,1977.4 L564.0,1976.7 L568.0,1976.2 L572.0,1975.6 L576.0,1975.1 L580.0,1974.7 L584.0,1974.3 L588.0,1974.0 L592.0,1973.7 L596.0,1973.4 L600.0,1973.2 L604.0,1973.0 L608.0,1972.9 L612.0,1972.8 L616.0,1972.8 L620.0,1972.7 L624.0,1972.8 L628.0,1972.8 L632.0,1972.9 L636.0,1973.1 L640.0,1973.2 L644.0,1973.4 L648.0,1973.7 L652.0,1973.9 L656.0,1974.2 L660.0,1974.5 L664.0,1974.9 L668.0,1975.2 L672.0,1975.6 L676.0,1976.0 L680.0,1976.5 L684.0,1976.9 L688.0,1977.4 L692.0,1977.9 L696.0,1978.4 L700.0,1978.9 L704.0,1979.5 L708.0,1980.1 L712.0,1980.6 L716.0,1981.2 L720.0,1981.8 L724.0,1982.4 L728.0,1983.1 L732.0,1983.7 L736.0,1984.3 L740.0,1985.0 L744.0,1985.6 L748.0,1986.3 L752.0,1987.0 L756.0,1987.6 L760.0,1988.3 L764.0,1989.0 L768.0,1989.6 L772.0,1990.3 L776.0,1990.9 L780.0,1991.6 L784.0,1992.3 L788.0,1992.9 L792.0,1993.5 L796.0,1994.2 L800.0,1994.8" fill="none" stroke="#000099" stroke-width="7.8" stroke-linejoin="round" stroke-linecap="round" stroke-dasharray="15.75 23.37 0.41 23.47 0.41 23.47" stroke-dashoffset="8.0"/>
<path d="M322.0,1963.3 L326.0,1957.6 L330.0,1951.3 L334.0,1944.3 L338.0,1936.8 L342.0,1928.8 L346.0,1920.3 L350.0,1911.5 L354.0,1902.4 L358.0,1893.1 L362.0,1883.7 L366.0,1874.2 L370.0,1864.7 L374.0,1855.2 L378.0,1845.7 L382.0,1836.2 L386.0,1826.7 L390.0,1817.2 L394.0,1807.6 L398.0,1798.0 L402.0,1788.4 L406.0,1778.7 L410.0,1768.9 L414.0,1759.1 L418.0,1749.2 L422.0,1739.2 L426.0,1729.2 L430.0,1719.2 L434.0,1709.2 L438.0,1699.5 L442.0,1690.4 L446.0,1681.9 L450.0,1673.6 L454.0,1665.6 L458.0,1657.7 L462.0,1649.5 L466.0,1641.1 L470.0,1632.3 L474.0,1623.1 L478.0,1613.8 L482.0,1604.7 L486.0,1595.9 L490.0,1587.4 L494.0,1579.3 L498.0,1571.6 L502.0,1564.4 L506.0,1557.6 L510.0,1551.4 L514.0,1545.7 L518.0,1540.3 L522.0,1535.3 L526.0,1530.5 L530.0,1525.8 L534.0,1521.2 L538.0,1516.7 L542.0,1512.3 L546.0,1508.1 L550.0,1504.0 L554.0,1500.1 L558.0,1496.5 L562.0,1493.0 L566.0,1489.8 L570.0,1486.9 L574.0,1484.3 L578.0,1481.9 L582.0,1479.9 L586.0,1478.2 L590.0,1476.9 L594.0,1475.9 L598.0,1475.3 L602.0,1475.2 L606.0,1475.4 L610.0,1476.0 L614.0,1476.9 L618.0,1477.9 L622.0,1479.1 L626.0,1480.3 L630.0,1481.5 L634.0,1482.6 L638.0,1483.6 L642.0,1484.7 L646.0,1485.7 L650.0,1486.8 L654.0,1488.1 L658.0,1489.6 L662.0,1491.3 L666.0,1493.3 L670.0,1495.5 L674.0,1497.9 L678.0,1500.5 L682.0,1503.3 L686.0,1506.2 L690.0,1509.2 L694.0,1512.2 L698.0,1515.4 L702.0,1518.6 L706.0,1521.9 L710.0,1525.3 L714.0,1528.7 L718.0,1532.1 L722.0,1535.7 L726.0,1539.2 L730.0,1542.9 L734.0,1546.5 L738.0,1550.2 L742.0,1553.9 L746.0,1557.7 L750.0,1561.4 L754.0,1565.2 L758.0,1569.0 L762.0,1572.8 L766.0,1576.5 L770.0,1580.2 L774.0,1583.8 L778.0,1587.3 L782.0,1590.5 L786.0,1593.7 L790.0,1596.8 L794.0,1600.0 L798.0,1603.5 L802.0,1607.5 L806.0,1611.9 L810.0,1616.7 L814.0,1621.8 L818.0,1627.0 L822.0,1632.4 L826.0,1637.8 L830.0,1643.2 L834.0,1648.4 L838.0,1653.4 L842.0,1658.1 L846.0,1662.5 L850.0,1666.5 L854.0,1670.2 L858.0,1673.9 L862.0,1677.5 L866.0,1681.3 L870.0,1685.4 L874.0,1689.6 L878.0,1694.1 L882.0,1698.7 L886.0,1703.3 L890.0,1708.0 L894.0,1712.7 L898.0,1717.2 L902.0,1721.6 L906.0,1725.8 L910.0,1729.8 L914.0,1733.5 L918.0,1737.1 L922.0,1740.8 L926.0,1744.6 L930.0,1748.6 L934.0,1752.9 L938.0,1757.6 L942.0,1762.3 L946.0,1766.9 L950.0,1771.3 L954.0,1775.3 L958.0,1778.8 L962.0,1782.1 L966.0,1785.3 L970.0,1788.4 L974.0,1791.7 L978.0,1795.3 L982.0,1799.2 L986.0,1803.2 L990.0,1807.4 L994.0,1811.5 L998.0,1815.4 L1002.0,1819.1 L1006.0,1822.6 L1010.0,1825.9 L1014.0,1829.0 L1018.0,1832.0 L1022.0,1834.8 L1026.0,1837.6 L1030.0,1840.3 L1034.0,1843.0 L1038.0,1845.8 L1042.0,1848.5 L1046.0,1851.3 L1050.0,1854.2 L1054.0,1857.3 L1058.0,1860.3 L1062.0,1863.4 L1066.0,1866.6 L1070.0,1869.7 L1074.0,1872.7 L1078.0,1875.7 L1082.0,1878.6 L1086.0,1881.5 L1090.0,1884.4 L1094.0,1887.1 L1098.0,1889.9 L1102.0,1892.6 L1106.0,1895.2 L1110.0,1897.8 L1114.0,1900.4 L1118.0,1902.9 L1122.0,1905.4 L1126.0,1907.8 L1130.0,1910.3 L1134.0,1912.7 L1138.0,1915.0 L1142.0,1917.4 L1146.0,1919.7 L1150.0,1922.0 L1154.0,1924.3 L1158.0,1926.6 L1162.0,1928.9 L1166.0,1931.1 L1170.0,1933.4 L1174.0,1935.6 L1178.0,1937.8 L1182.0,1940.0 L1186.0,1942.1 L1190.0,1944.3 L1194.0,1946.4 L1198.0,1948.5 L1202.0,1950.6 L1206.0,1952.6 L1210.0,1954.7 L1214.0,1956.7 L1218.0,1958.7 L1222.0,1960.6 L1226.0,1962.6 L1230.0,1964.5 L1234.0,1966.4 L1238.0,1968.3 L1242.0,1970.1 L1246.0,1971.9 L1250.0,1973.7 L1254.0,1975.5 L1258.0,1977.2 L1262.0,1978.9 L1266.0,1980.6 L1270.0,1982.2 L1274.0,1983.9 L1278.0,1985.5 L1282.0,1987.0 L1286.0,1988.5 L1290.0,1990.0 L1294.0,1991.5 L1298.0,1992.9 L1300.0,1993.6" fill="none" stroke="#a5610f" stroke-width="7.8" stroke-linejoin="round" stroke-linecap="round" stroke-dasharray="15.69 23.28 0.40 23.38" stroke-dashoffset="61.0"/>
<path d="M322.0,1939.8 L326.0,1931.4 L330.0,1922.8 L334.0,1914.0 L338.0,1904.9 L342.0,1895.6 L346.0,1886.0 L350.0,1876.2 L354.0,1866.1 L358.0,1855.6 L362.0,1844.9 L366.0,1833.9 L370.0,1822.5 L374.0,1811.0 L378.0,1799.3 L382.0,1787.5 L386.0,1775.6 L390.0,1763.7 L394.0,1751.8 L398.0,1740.0 L402.0,1728.3 L406.0,1716.9 L410.0,1705.6 L414.0,1694.7 L418.0,1684.0 L422.0,1673.4 L426.0,1662.7 L430.0,1651.8 L434.0,1640.8 L438.0,1629.9 L442.0,1619.2 L446.0,1608.6 L450.0,1598.2 L454.0,1587.9 L458.0,1577.6 L462.0,1567.4 L466.0,1557.3 L470.0,1547.1 L474.0,1537.0 L478.0,1526.9 L482.0,1517.1 L486.0,1507.6 L490.0,1498.5 L494.0,1489.9 L498.0,1482.0 L502.0,1474.7 L506.0,1467.7 L510.0,1460.9 L514.0,1454.2 L518.0,1447.3 L522.0,1440.2 L526.0,1432.7 L530.0,1424.9 L534.0,1417.3 L538.0,1410.3 L542.0,1404.5 L546.0,1400.0 L550.0,1396.6 L554.0,1394.0 L558.0,1392.0 L562.0,1390.3 L566.0,1388.5 L570.0,1386.7 L574.0,1384.7 L578.0,1382.6 L582.0,1380.5 L586.0,1378.5 L590.0,1376.5 L594.0,1374.6 L598.0,1373.0 L602.0,1371.6 L606.0,1370.5 L610.0,1369.8 L614.0,1369.6 L618.0,1369.9 L622.0,1370.8 L626.0,1372.4 L630.0,1374.6 L634.0,1377.2 L638.0,1380.0 L642.0,1382.8 L646.0,1385.5 L650.0,1387.9 L654.0,1389.7 L658.0,1391.3 L662.0,1392.7 L666.0,1394.2 L670.0,1395.9 L674.0,1397.9 L678.0,1400.6 L682.0,1403.9 L686.0,1407.7 L690.0,1411.8 L694.0,1416.0 L698.0,1420.1 L702.0,1423.8 L706.0,1427.1 L710.0,1430.2 L714.0,1433.1 L718.0,1436.1 L722.0,1439.2 L726.0,1442.6 L730.0,1446.3 L734.0,1450.4 L738.0,1454.7 L742.0,1459.2 L746.0,1463.8 L750.0,1468.3 L754.0,1472.9 L758.0,1477.4 L762.0,1481.9 L766.0,1486.5 L770.0,1491.0 L774.0,1495.6 L778.0,1500.1 L782.0,1504.7 L786.0,1509.3 L790.0,1513.9 L794.0,1518.5 L798.0,1523.2 L802.0,1527.9 L806.0,1532.6 L810.0,1537.4 L814.0,1542.2 L818.0,1547.0 L822.0,1551.9 L826.0,1556.8 L830.0,1561.8 L834.0,1566.8 L838.0,1571.9 L842.0,1577.1 L846.0,1582.2 L850.0,1587.4 L854.0,1592.6 L858.0,1597.8 L862.0,1603.1 L866.0,1608.3 L870.0,1613.6 L874.0,1618.8 L878.0,1624.0 L882.0,1629.2 L886.0,1634.4 L890.0,1639.6 L894.0,1644.7 L898.0,1649.8 L902.0,1654.9 L906.0,1659.9 L910.0,1664.9 L914.0,1669.9 L918.0,1674.8 L922.0,1679.7 L926.0,1684.6 L930.0,1689.4 L934.0,1694.2 L938.0,1698.9 L942.0,1703.6 L946.0,1708.2 L950.0,1712.8 L954.0,1717.4 L958.0,1721.9 L962.0,1726.3 L966.0,1730.7 L970.0,1735.1 L974.0,1739.4 L978.0,1743.7 L982.0,1747.9 L986.0,1752.0 L990.0,1756.1 L994.0,1760.2 L998.0,1764.2 L1002.0,1768.2 L1006.0,1772.2 L1010.0,1776.1 L1014.0,1779.9 L1018.0,1783.7 L1022.0,1787.5 L1026.0,1791.3 L1030.0,1795.0 L1034.0,1798.7 L1038.0,1802.3 L1042.0,1805.9 L1046.0,1809.5 L1050.0,1813.1 L1054.0,1816.6 L1058.0,1820.1 L1062.0,1823.5 L1066.0,1826.9 L1070.0,1830.3 L1074.0,1833.7 L1078.0,1837.0 L1082.0,1840.3 L1086.0,1843.5 L1090.0,1846.8 L1094.0,1849.9 L1098.0,1853.1 L1102.0,1856.2 L1106.0,1859.3 L1110.0,1862.4 L1114.0,1865.4 L1118.0,1868.4 L1122.0,1871.4 L1126.0,1874.4 L1130.0,1877.3 L1134.0,1880.2 L1138.0,1883.0 L1142.0,1885.8 L1146.0,1888.6 L1150.0,1891.4 L1154.0,1894.1 L1158.0,1896.8 L1162.0,1899.5 L1166.0,1902.1 L1170.0,1904.8 L1174.0,1907.3 L1178.0,1909.9 L1182.0,1912.4 L1186.0,1914.9 L1190.0,1917.4 L1194.0,1919.8 L1198.0,1922.3 L1202.0,1924.6 L1206.0,1927.0 L1210.0,1929.3 L1214.0,1931.6 L1218.0,1933.9 L1222.0,1936.2 L1226.0,1938.4 L1230.0,1940.6 L1234.0,1942.7 L1238.0,1944.9 L1242.0,1947.0 L1246.0,1949.1 L1250.0,1951.1 L1254.0,1953.1 L1258.0,1955.1 L1262.0,1957.1 L1266.0,1959.1 L1270.0,1961.0 L1274.0,1962.9 L1278.0,1964.8 L1282.0,1966.6 L1286.0,1968.4 L1290.0,1970.2 L1294.0,1972.0 L1298.0,1973.8 L1302.0,1975.5 L1306.0,1977.2 L1310.0,1978.8 L1314.0,1980.5 L1318.0,1982.1 L1322.0,1983.7 L1326.0,1985.3 L1330.0,1986.8 L1334.0,1988.3 L1338.0,1989.8 L1342.0,1991.3 L1346.0,1992.8 L1350.0,1994.2" fill="none" stroke="#000000" stroke-width="7.8" stroke-linejoin="round" stroke-linecap="round" stroke-dasharray="15.69 23.28 0.40 23.38" stroke-dashoffset="59.0"/>
<path d="M321.0,1939.8 L325.0,1931.5 L329.0,1922.7 L333.0,1913.7 L337.0,1904.4 L341.0,1894.7 L345.0,1884.9 L349.0,1874.7 L353.0,1864.4 L357.0,1853.9 L361.0,1843.2 L365.0,1832.3 L369.0,1821.3 L373.0,1810.3 L377.0,1799.1 L381.0,1787.8 L385.0,1776.6 L389.0,1765.3 L393.0,1754.0 L397.0,1742.7 L401.0,1731.4 L405.0,1720.1 L409.0,1708.9 L413.0,1697.6 L417.0,1686.3 L421.0,1675.0 L425.0,1663.7 L429.0,1652.3 L433.0,1640.9 L437.0,1629.5 L441.0,1618.1 L445.0,1606.7 L449.0,1595.3 L453.0,1583.9 L457.0,1572.6 L461.0,1561.3 L465.0,1550.1 L469.0,1539.0 L473.0,1528.1 L477.0,1517.4 L481.0,1507.1 L485.0,1497.0 L489.0,1487.4 L493.0,1478.2 L497.0,1469.4 L501.0,1461.0 L505.0,1452.9 L509.0,1445.2 L513.0,1437.7 L517.0,1430.6 L521.0,1423.8 L525.0,1417.3 L529.0,1411.1 L533.0,1405.2 L537.0,1399.6 L541.0,1394.4 L545.0,1389.5 L549.0,1384.9 L553.0,1380.6 L557.0,1376.7 L561.0,1373.1 L565.0,1369.8 L569.0,1366.9 L573.0,1364.3 L577.0,1361.9 L581.0,1359.8 L585.0,1358.0 L589.0,1356.4 L593.0,1355.1 L597.0,1353.9 L601.0,1353.0 L605.0,1352.2 L609.0,1351.6 L613.0,1351.2 L617.0,1351.0 L621.0,1350.9 L625.0,1351.0 L629.0,1351.4 L633.0,1351.9 L637.0,1352.6 L641.0,1353.5 L645.0,1354.6 L649.0,1356.0 L653.0,1357.5 L657.0,1359.2 L661.0,1361.2 L665.0,1363.3 L669.0,1365.6 L673.0,1368.1 L677.0,1370.7 L681.0,1373.5 L685.0,1376.5 L689.0,1379.6 L693.0,1382.8 L697.0,1386.2 L701.0,1389.7 L705.0,1393.3 L709.0,1396.9 L713.0,1400.6 L717.0,1404.4 L721.0,1408.1 L725.0,1411.9 L729.0,1415.6 L733.0,1419.4 L737.0,1423.1 L741.0,1426.9 L745.0,1430.8 L749.0,1434.7 L753.0,1438.6 L757.0,1442.7 L761.0,1446.9 L765.0,1451.1 L769.0,1455.5 L773.0,1460.1 L777.0,1464.7 L781.0,1469.6 L785.0,1474.5 L789.0,1479.6 L793.0,1484.7 L797.0,1489.9 L801.0,1495.1 L805.0,1500.3 L809.0,1505.6 L813.0,1510.8 L817.0,1515.9 L821.0,1521.0 L825.0,1526.0 L829.0,1530.9 L833.0,1535.6 L837.0,1540.3 L841.0,1544.9 L845.0,1549.5 L849.0,1554.0 L853.0,1558.6 L857.0,1563.3 L861.0,1568.2 L865.0,1573.2 L869.0,1578.3 L873.0,1583.7 L877.0,1589.1 L881.0,1594.6 L885.0,1600.1 L889.0,1605.7 L893.0,1611.2 L897.0,1616.6 L901.0,1622.0 L905.0,1627.3 L909.0,1632.4 L913.0,1637.5 L917.0,1642.6 L921.0,1647.5 L925.0,1652.4 L929.0,1657.2 L933.0,1662.0 L937.0,1666.7 L941.0,1671.4 L945.0,1676.1 L949.0,1680.7 L953.0,1685.3 L957.0,1689.8 L961.0,1694.3 L965.0,1698.8 L969.0,1703.2 L973.0,1707.6 L977.0,1711.9 L981.0,1716.2 L985.0,1720.5 L989.0,1724.7 L993.0,1728.9 L997.0,1733.0 L1001.0,1737.1 L1005.0,1741.1 L1009.0,1745.1 L1013.0,1749.1 L1017.0,1753.0 L1021.0,1756.9 L1025.0,1760.7 L1029.0,1764.5 L1033.0,1768.3 L1037.0,1772.0 L1041.0,1775.7 L1045.0,1779.3 L1049.0,1782.9 L1053.0,1786.5 L1057.0,1790.1 L1061.0,1793.6 L1065.0,1797.0 L1069.0,1800.5 L1073.0,1803.9 L1077.0,1807.3 L1081.0,1810.6 L1085.0,1814.0 L1089.0,1817.2 L1093.0,1820.5 L1097.0,1823.7 L1101.0,1827.0 L1105.0,1830.1 L1109.0,1833.3 L1113.0,1836.4 L1117.0,1839.5 L1121.0,1842.6 L1125.0,1845.7 L1129.0,1848.7 L1133.0,1851.7 L1137.0,1854.7 L1141.0,1857.7 L1145.0,1860.6 L1149.0,1863.5 L1153.0,1866.4 L1157.0,1869.3 L1161.0,1872.1 L1165.0,1874.9 L1169.0,1877.7 L1173.0,1880.4 L1177.0,1883.2 L1181.0,1885.8 L1185.0,1888.5 L1189.0,1891.1 L1193.0,1893.7 L1197.0,1896.3 L1201.0,1898.8 L1205.0,1901.3 L1209.0,1903.8 L1213.0,1906.2 L1217.0,1908.6 L1221.0,1911.0 L1225.0,1913.3 L1229.0,1915.6 L1233.0,1917.8 L1237.0,1920.1 L1241.0,1922.3 L1245.0,1924.4 L1249.0,1926.6 L1253.0,1928.7 L1257.0,1930.8 L1261.0,1932.8 L1265.0,1934.9 L1269.0,1936.9 L1273.0,1938.9 L1277.0,1940.8 L1281.0,1942.8 L1285.0,1944.7 L1289.0,1946.6 L1293.0,1948.4 L1297.0,1950.3 L1301.0,1952.1 L1305.0,1953.9 L1309.0,1955.7 L1313.0,1957.5 L1317.0,1959.3 L1321.0,1961.0 L1325.0,1962.7 L1329.0,1964.5 L1333.0,1966.2 L1337.0,1967.9 L1341.0,1969.6 L1345.0,1971.2 L1349.0,1972.9 L1353.0,1974.6 L1357.0,1976.2 L1361.0,1977.8 L1365.0,1979.5 L1369.0,1981.1 L1373.0,1982.7 L1377.0,1984.4 L1381.0,1986.0 L1385.0,1987.6 L1389.0,1989.2 L1393.0,1990.8 L1395.0,1991.6" fill="none" stroke="#ff8408" stroke-width="7.3" stroke-linejoin="round" stroke-linecap="round" stroke-dasharray="0.40 23.10" stroke-dashoffset="16.0"/>
<path d="M482.0,1989.7 L486.0,1987.3 L490.0,1985.0 L494.0,1982.8 L498.0,1980.6 L502.0,1978.6 L506.0,1976.6 L510.0,1974.7 L514.0,1972.8 L518.0,1971.1 L522.0,1969.4 L526.0,1967.8 L530.0,1966.3 L534.0,1964.8 L538.0,1963.5 L542.0,1962.2 L546.0,1960.9 L550.0,1959.7 L554.0,1958.6 L558.0,1957.6 L562.0,1956.6 L566.0,1955.7 L570.0,1954.9 L574.0,1954.1 L578.0,1953.3 L582.0,1952.7 L586.0,1952.0 L590.0,1951.5 L594.0,1951.0 L598.0,1950.5 L602.0,1950.1 L606.0,1949.8 L610.0,1949.5 L614.0,1949.2 L618.0,1949.0 L622.0,1948.8 L626.0,1948.7 L630.0,1948.6 L634.0,1948.6 L638.0,1948.6 L642.0,1948.6 L646.0,1948.7 L650.0,1948.8 L654.0,1949.0 L658.0,1949.2 L662.0,1949.4 L666.0,1949.7 L670.0,1949.9 L674.0,1950.2 L678.0,1950.6 L682.0,1950.9 L686.0,1951.3 L690.0,1951.8 L694.0,1952.2 L698.0,1952.7 L702.0,1953.1 L706.0,1953.6 L710.0,1954.1 L714.0,1954.7 L718.0,1955.2 L722.0,1955.8 L726.0,1956.4 L730.0,1956.9 L734.0,1957.5 L738.0,1958.2 L742.0,1958.8 L746.0,1959.4 L750.0,1960.1 L754.0,1960.7 L758.0,1961.4 L762.0,1962.1 L766.0,1962.7 L770.0,1963.4 L774.0,1964.1 L778.0,1964.8 L782.0,1965.6 L786.0,1966.3 L790.0,1967.0 L794.0,1967.7 L798.0,1968.5 L802.0,1969.2 L806.0,1970.0 L810.0,1970.7 L814.0,1971.5 L818.0,1972.3 L822.0,1973.0 L826.0,1973.8 L830.0,1974.6 L834.0,1975.3 L838.0,1976.1 L842.0,1976.9 L846.0,1977.7 L850.0,1978.4 L854.0,1979.2 L858.0,1980.0 L862.0,1980.8 L866.0,1981.6 L870.0,1982.3 L874.0,1983.1 L878.0,1983.9 L882.0,1984.6 L886.0,1985.4 L890.0,1986.2 L894.0,1986.9 L898.0,1987.7 L902.0,1988.4 L906.0,1989.1 L910.0,1989.9 L914.0,1990.6 L918.0,1991.3 L922.0,1992.0 L926.0,1992.8 L930.0,1993.5 L934.0,1994.1" fill="none" stroke="#e633ff" stroke-width="7.3" stroke-linejoin="round" stroke-linecap="round" stroke-dasharray="0.40 23.10" stroke-dashoffset="12.5"/>
<path d="M528.0,1992.7 L532.0,1991.6 L536.0,1990.5 L540.0,1989.5 L544.0,1988.6 L548.0,1987.7 L552.0,1986.8 L556.0,1986.1 L560.0,1985.3 L564.0,1984.7 L568.0,1984.1 L572.0,1983.5 L576.0,1983.0 L580.0,1982.6 L584.0,1982.2 L588.0,1981.8 L592.0,1981.5 L596.0,1981.2 L600.0,1981.0 L604.0,1980.8 L608.0,1980.7 L612.0,1980.6 L616.0,1980.5 L620.0,1980.5 L624.0,1980.5 L628.0,1980.6 L632.0,1980.7 L636.0,1980.8 L640.0,1981.0 L644.0,1981.2 L648.0,1981.4 L652.0,1981.6 L656.0,1981.9 L660.0,1982.2 L664.0,1982.5 L668.0,1982.9 L672.0,1983.3 L676.0,1983.7 L680.0,1984.1 L684.0,1984.5 L688.0,1985.0 L692.0,1985.5 L696.0,1986.0 L700.0,1986.5 L704.0,1987.0 L708.0,1987.5 L712.0,1988.1 L716.0,1988.6 L720.0,1989.2 L724.0,1989.7 L728.0,1990.3 L732.0,1990.9 L736.0,1991.5 L740.0,1992.1 L744.0,1992.7 L748.0,1993.3 L752.0,1993.9 L756.0,1994.5 L760.0,1995.0" fill="none" stroke="#00cc33" stroke-width="7.3" stroke-linejoin="round" stroke-linecap="round" stroke-dasharray="0.40 23.19" stroke-dashoffset="13.0"/>
<path d="M321.0,1916.6 L325.0,1908.6 L329.0,1899.8 L333.0,1890.4 L337.0,1880.5 L341.0,1870.0 L345.0,1859.1 L349.0,1847.9 L353.0,1836.3 L357.0,1824.6 L361.0,1812.6 L365.0,1800.6 L369.0,1788.6 L373.0,1776.5 L377.0,1764.4 L381.0,1752.3 L385.0,1740.1 L389.0,1727.9 L393.0,1715.5 L397.0,1703.1 L401.0,1690.5 L405.0,1677.8 L409.0,1664.9 L413.0,1651.9 L417.0,1638.9 L421.0,1625.7 L425.0,1612.6 L429.0,1599.5 L433.0,1586.4 L437.0,1573.3 L441.0,1560.4 L445.0,1547.5 L449.0,1534.9 L453.0,1522.4 L457.0,1510.1 L461.0,1498.1 L465.0,1486.3 L469.0,1474.8 L473.0,1463.7 L477.0,1452.9 L481.0,1442.5 L485.0,1432.5 L489.0,1422.9 L493.0,1413.6 L497.0,1404.7 L501.0,1396.1 L505.0,1387.9 L509.0,1380.0 L513.0,1372.5 L517.0,1365.4 L521.0,1358.6 L525.0,1352.1 L529.0,1345.9 L533.0,1340.1 L537.0,1334.6 L541.0,1329.4 L545.0,1324.6 L549.0,1320.1 L553.0,1315.8 L557.0,1311.9 L561.0,1308.3 L565.0,1305.0 L569.0,1301.9 L573.0,1299.2 L577.0,1296.8 L581.0,1294.6 L585.0,1292.7 L589.0,1291.1 L593.0,1289.8 L597.0,1288.8 L601.0,1288.0 L605.0,1287.4 L609.0,1287.2 L613.0,1287.2 L617.0,1287.4 L621.0,1287.8 L625.0,1288.5 L629.0,1289.5 L633.0,1290.6 L637.0,1292.0 L641.0,1293.5 L645.0,1295.3 L649.0,1297.3 L653.0,1299.5 L657.0,1301.8 L661.0,1304.4 L665.0,1307.1 L669.0,1310.0 L673.0,1313.0 L677.0,1316.2 L681.0,1319.6 L685.0,1323.1 L689.0,1326.8 L693.0,1330.6 L697.0,1334.5 L701.0,1338.6 L705.0,1342.8 L709.0,1347.1 L713.0,1351.5 L717.0,1356.0 L721.0,1360.6 L725.0,1365.3 L729.0,1370.1 L733.0,1374.9 L737.0,1379.8 L741.0,1384.8 L745.0,1389.9 L749.0,1394.9 L753.0,1399.9 L757.0,1404.8 L761.0,1409.6 L765.0,1414.2 L769.0,1418.7 L773.0,1423.2 L777.0,1427.7 L781.0,1432.3 L785.0,1437.1 L789.0,1442.3 L793.0,1447.7 L797.0,1453.5 L801.0,1459.5 L805.0,1465.5 L809.0,1471.6 L813.0,1477.5 L817.0,1483.3 L821.0,1489.0 L825.0,1494.7 L829.0,1500.2 L833.0,1505.7 L837.0,1511.1 L841.0,1516.5 L845.0,1522.0 L849.0,1527.4 L853.0,1532.8 L857.0,1538.3 L861.0,1543.8 L865.0,1549.4 L869.0,1555.1 L873.0,1560.9 L877.0,1566.9 L881.0,1572.9 L885.0,1579.2 L889.0,1585.5 L893.0,1591.8 L897.0,1598.2 L901.0,1604.6 L905.0,1610.9 L909.0,1617.1 L913.0,1623.1 L917.0,1629.0 L921.0,1634.6 L925.0,1640.0 L929.0,1645.1 L933.0,1650.0 L937.0,1654.7 L941.0,1659.3 L945.0,1663.8 L949.0,1668.4 L953.0,1672.9 L957.0,1677.5 L961.0,1682.2 L965.0,1686.8 L969.0,1691.4 L973.0,1696.1 L977.0,1700.7 L981.0,1705.3 L985.0,1710.0 L989.0,1714.6 L993.0,1719.2 L997.0,1723.8 L1001.0,1728.3 L1005.0,1732.8 L1009.0,1737.3 L1013.0,1741.7 L1017.0,1746.1 L1021.0,1750.5 L1025.0,1754.8 L1029.0,1759.0 L1033.0,1763.2 L1037.0,1767.3 L1041.0,1771.4 L1045.0,1775.4 L1049.0,1779.4 L1053.0,1783.3 L1057.0,1787.1 L1061.0,1790.9 L1065.0,1794.7 L1069.0,1798.4 L1073.0,1802.1 L1077.0,1805.7 L1081.0,1809.2 L1085.0,1812.8 L1089.0,1816.3 L1093.0,1819.7 L1097.0,1823.1 L1101.0,1826.4 L1105.0,1829.7 L1109.0,1833.0 L1113.0,1836.2 L1117.0,1839.4 L1121.0,1842.6 L1125.0,1845.7 L1129.0,1848.8 L1133.0,1851.8 L1137.0,1854.9 L1141.0,1857.8 L1145.0,1860.8 L1149.0,1863.7 L1153.0,1866.6 L1157.0,1869.4 L1161.0,1872.3 L1165.0,1875.1 L1169.0,1877.8 L1173.0,1880.6 L1177.0,1883.3 L1181.0,1886.0 L1185.0,1888.7 L1189.0,1891.3 L1193.0,1894.0 L1197.0,1896.6 L1201.0,1899.2 L1205.0,1901.7 L1209.0,1904.3 L1213.0,1906.8 L1217.0,1909.3 L1221.0,1911.8 L1225.0,1914.3 L1229.0,1916.7 L1233.0,1919.2 L1237.0,1921.6 L1241.0,1923.9 L1245.0,1926.3 L1249.0,1928.7 L1253.0,1931.0 L1257.0,1933.3 L1261.0,1935.6 L1265.0,1937.8 L1269.0,1940.0 L1273.0,1942.2 L1277.0,1944.4 L1281.0,1946.6 L1285.0,1948.7 L1289.0,1950.8 L1293.0,1952.9 L1297.0,1954.9 L1301.0,1956.9 L1305.0,1958.9 L1309.0,1960.9 L1313.0,1962.8 L1317.0,1964.7 L1321.0,1966.6 L1325.0,1968.5 L1329.0,1970.3 L1333.0,1972.1 L1337.0,1973.8 L1341.0,1975.6 L1345.0,1977.3 L1349.0,1978.9 L1353.0,1980.6 L1357.0,1982.2 L1361.0,1983.7 L1365.0,1985.3 L1369.0,1986.8 L1373.0,1988.2 L1377.0,1989.6 L1381.0,1991.0 L1385.0,1992.4 L1389.0,1993.7 L1390.0,1994.1" fill="none" stroke="#ff0000" stroke-width="8.2" stroke-linejoin="round" stroke-linecap="round" stroke-dasharray="15.78 23.41" stroke-dashoffset="32.0"/>
<path d="M479.0,1995.0 L483.0,1993.3 L501.5,1982.1 L518.8,1973.5 L536.0,1964.8 L553.3,1961.4 L573.5,1954.7 L593.6,1952.4 L613.8,1948.4 L633.9,1951.9 L662.7,1954.7 L685.7,1956.8 L708.8,1961.4 L731.8,1963.4 L754.8,1969.1 L775.0,1969.7 L800.0,1974.9 L817.3,1976.3 L837.4,1982.1 L857.6,1987.3 L886.4,1993.6 L892.0,1995.0" fill="none" stroke="#0000ff" stroke-width="8.0" stroke-linejoin="round"/>
</g>
<g id="legend-b">
<rect x="986.0" y="1253.2" width="86.4" height="7.6" rx="1.0" fill="#0000ff"/>
<rect x="986.0" y="1360.3" width="20.2" height="7.6" rx="1.0" fill="#ff0000"/><rect x="1023.5" y="1360.3" width="21.5" height="7.6" rx="1.0" fill="#ff0000"/><rect x="1062.3" y="1360.3" width="10.1" height="7.6" rx="1.0" fill="#ff0000"/>
<rect x="985.3" y="1471.1" width="4.4" height="7.6" rx="2.0" fill="#00cc33"/><rect x="1006.9" y="1471.1" width="7.2" height="7.6" rx="2.0" fill="#00cc33"/><rect x="1030.8" y="1471.1" width="7.2" height="7.6" rx="2.0" fill="#00cc33"/><rect x="1054.4" y="1471.1" width="7.2" height="7.6" rx="2.0" fill="#00cc33"/>
<rect x="1001.7" y="1575.6" width="4.4" height="7.6" rx="2.0" fill="#e633ff"/><rect x="1022.8" y="1575.6" width="7.2" height="7.6" rx="2.0" fill="#e633ff"/><rect x="1046.6" y="1575.6" width="7.2" height="7.6" rx="2.0" fill="#e633ff"/><rect x="1070.3" y="1575.6" width="7.2" height="7.6" rx="2.0" fill="#e633ff"/>
<rect x="1360.4" y="1265.9" width="4.4" height="7.6" rx="2.0" fill="#ff8408"/><rect x="1382.0" y="1265.9" width="7.2" height="7.6" rx="2.0" fill="#ff8408"/><rect x="1405.6" y="1265.9" width="7.2" height="7.6" rx="2.0" fill="#ff8408"/><rect x="1428.7" y="1265.9" width="7.2" height="7.6" rx="2.0" fill="#ff8408"/>
<rect x="1360.3" y="1371.8" width="19.6" height="7.6" rx="1.0" fill="#000000"/><rect x="1397.2" y="1371.8" width="8.5" height="7.6" rx="2.0" fill="#000000"/><rect x="1419.3" y="1371.8" width="24.5" height="7.6" rx="1.0" fill="#000000"/>
<rect x="1360.3" y="1478.3" width="19.6" height="7.6" rx="1.0" fill="#a5610f"/><rect x="1397.2" y="1478.3" width="8.5" height="7.6" rx="2.0" fill="#a5610f"/><rect x="1419.3" y="1478.3" width="24.5" height="7.6" rx="1.0" fill="#a5610f"/>
<rect x="1360.3" y="1585.4" width="19.6" height="7.6" rx="1.0" fill="#000099"/><rect x="1397.2" y="1585.4" width="8.5" height="7.6" rx="2.0" fill="#000099"/><rect x="1420.8" y="1585.4" width="8.5" height="7.6" rx="2.0" fill="#000099"/>
<text class="lg" transform="translate(1115.0,1278.0) scale(0.98,1)">B</text>
<text class="lg" transform="translate(1115.0,1384.2) scale(0.98,1)" dx="0 -2">BF</text>
<text class="lg" transform="translate(1115.0,1494.2) scale(0.98,1)" dx="0 0 -2">BS-0.01</text>
<text class="lg" transform="translate(1131.0,1600.0) scale(0.98,1)">BS-0.1</text>
<text class="lg" transform="translate(1488.0,1289.6) scale(0.98,1)">BS-0.5</text>
<text class="lg" transform="translate(1488.0,1396.3) scale(0.98,1)">BFS-0.01</text>
<text class="lg" transform="translate(1488.0,1502.8) scale(0.98,1)">BFS-0.1</text>
<text class="lg" transform="translate(1488.0,1610.0) scale(0.98,1)">BFS-0.5</text>
</g>
</g>
</g>
</svg>
</body>
</html>
